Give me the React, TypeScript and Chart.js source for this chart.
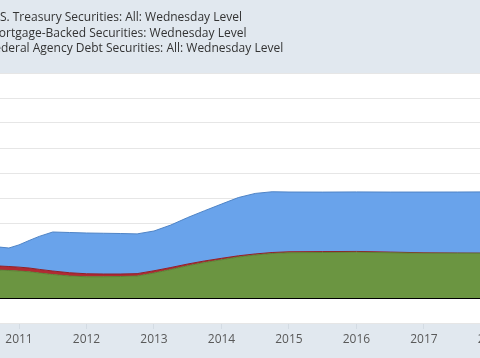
import React, { useEffect, useRef } from "react";
import { Chart, registerables } from "chart.js";

Chart.register(...registerables);

// Weekly Fed holdings, trillions of dollars (decimal-year dates)
const dates = [
  2010.6, 2010.7, 2010.85, 2011.0, 2011.15, 2011.3, 2011.5, 2011.75, 2012.0, 2012.25,
  2012.5, 2012.75, 2013.0, 2013.25, 2013.5, 2013.75, 2014.0, 2014.25, 2014.5, 2014.75,
  2015.0, 2015.5, 2016.0, 2016.5, 2017.0, 2017.5, 2017.9, 2018.2,
];
const treasury = [
  0.76, 0.76, 0.74, 0.89, 1.1, 1.32, 1.56, 1.61, 1.63, 1.63,
  1.62, 1.59, 1.59, 1.7, 1.86, 2.01, 2.17, 2.33, 2.42, 2.43,
  2.39, 2.38, 2.38, 2.4, 2.43, 2.44, 2.45, 2.45,
];
const mbs = [
  1.12, 1.12, 1.1, 1.08, 1.05, 1.0, 0.94, 0.88, 0.85, 0.85,
  0.86, 0.88, 1.0, 1.14, 1.29, 1.42, 1.53, 1.64, 1.72, 1.78,
  1.81, 1.82, 1.83, 1.81, 1.79, 1.79, 1.79, 1.79,
];
const agency = [
  0.16, 0.16, 0.16, 0.155, 0.15, 0.145, 0.14, 0.13, 0.12, 0.11,
  0.1, 0.095, 0.09, 0.08, 0.07, 0.062, 0.057, 0.048, 0.043, 0.04,
  0.039, 0.036, 0.033, 0.027, 0.018, 0.009, 0.004, 0.004,
];
const legendLabels = [
  "U.S. Treasury Securities: All: Wednesday Level",
  "Mortgage-Backed Securities: Wednesday Level",
  "Federal Agency Debt Securities: All: Wednesday Level",
];
const yearTicks = [2011, 2012, 2013, 2014, 2015, 2016, 2017, 2018];
const xMin = 2010.7185;
const xMax = 2017.83;
const yMin = -1;
const yMax = 9;

const BAND = "#e1e8ef";

export default function App() {
  const ref = useRef<HTMLCanvasElement | null>(null);

  useEffect(() => {
    if (!ref.current) return;
    const pts = (arr: number[]) => dates.map((d, i) => ({ x: d, y: arr[i] }));
    const whiteArea = {
      id: "whiteArea",
      beforeDraw(chart: any) {
        const { ctx, chartArea } = chart;
        ctx.save();
        ctx.fillStyle = "#ffffff";
        ctx.fillRect(chartArea.left, chartArea.top, chartArea.right - chartArea.left, chartArea.bottom - chartArea.top);
        ctx.restore();
      },
    };
    const chart = new Chart(ref.current, {
      type: "line",
      data: {
        datasets: [
          {
            label: "Mortgage-Backed Securities: Wednesday Level",
            data: pts(mbs),
            backgroundColor: "#6b9541",
            borderColor: "#5b8035",
            borderWidth: 1,
            fill: "origin",
            pointRadius: 0,
          },
          {
            label: "Federal Agency Debt Securities: All: Wednesday Level",
            data: pts(agency),
            backgroundColor: "#b02a33",
            borderColor: "#8e2029",
            borderWidth: 1,
            fill: "-1",
            pointRadius: 0,
          },
          {
            label: "U.S. Treasury Securities: All: Wednesday Level",
            data: pts(treasury),
            backgroundColor: "#69a3eb",
            borderColor: "#4f84c6",
            borderWidth: 1,
            fill: "-1",
            pointRadius: 0,
          },
        ],
      },
      options: {
        animation: false,
        responsive: false,
        layout: { padding: { top: 73, left: 0, right: 0, bottom: 0 } },
        plugins: { legend: { display: false }, tooltip: { enabled: false } },
        scales: {
          x: {
            type: "linear",
            min: xMin,
            max: xMax,
            afterBuildTicks: (s: any) => {
              s.ticks = yearTicks.map((v) => ({ value: v }));
            },
            afterFit: (s: any) => {
              s.height = 35;
              s.paddingLeft = 0;
              s.paddingRight = 0;
            },
            grid: { drawOnChartArea: false, drawTicks: true, tickLength: 6, color: "#d3dbe3" },
            border: { display: false },
            ticks: {
              autoSkip: false,
              maxRotation: 0,
              padding: 3,
              color: "#595959",
              font: { family: "Open Sans", size: 12 },
              callback: (v: any) => String(v),
            },
          },
          y: {
            stacked: true,
            min: yMin,
            max: yMax,
            afterFit: (s: any) => {
              s.width = 0;
            },
            ticks: { display: false, stepSize: 1 },
            border: { display: false },
            grid: {
              drawTicks: false,
              color: (c: any) => (c.tick && c.tick.value === 0 ? "#000000" : "#e6e6e6"),
              lineWidth: (c: any) => (c.tick && c.tick.value === 0 ? 2 : 1),
            },
          },
        },
      },
      plugins: [whiteArea],
    });
    return () => chart.destroy();
  }, []);

  return (
    <div
      style={{
        position: "fixed",
        left: 0,
        top: 0,
        width: 480,
        height: 358,
        overflow: "hidden",
        background: BAND,
      }}
    >
      <canvas ref={ref} width={480} height={358} style={{ position: "absolute", left: 0, top: 0 }} />
      {legendLabels.map((t, i) => (
        <div
          key={t}
          style={{
            position: "absolute",
            left: -12,
            top: 8 + i * 15.5,
            whiteSpace: "nowrap",
            fontFamily: "'Open Sans'",
            fontSize: 12,
            lineHeight: "18px",
            color: "#333333",
          }}
        >
          {t}
        </div>
      ))}
    </div>
  );
}
